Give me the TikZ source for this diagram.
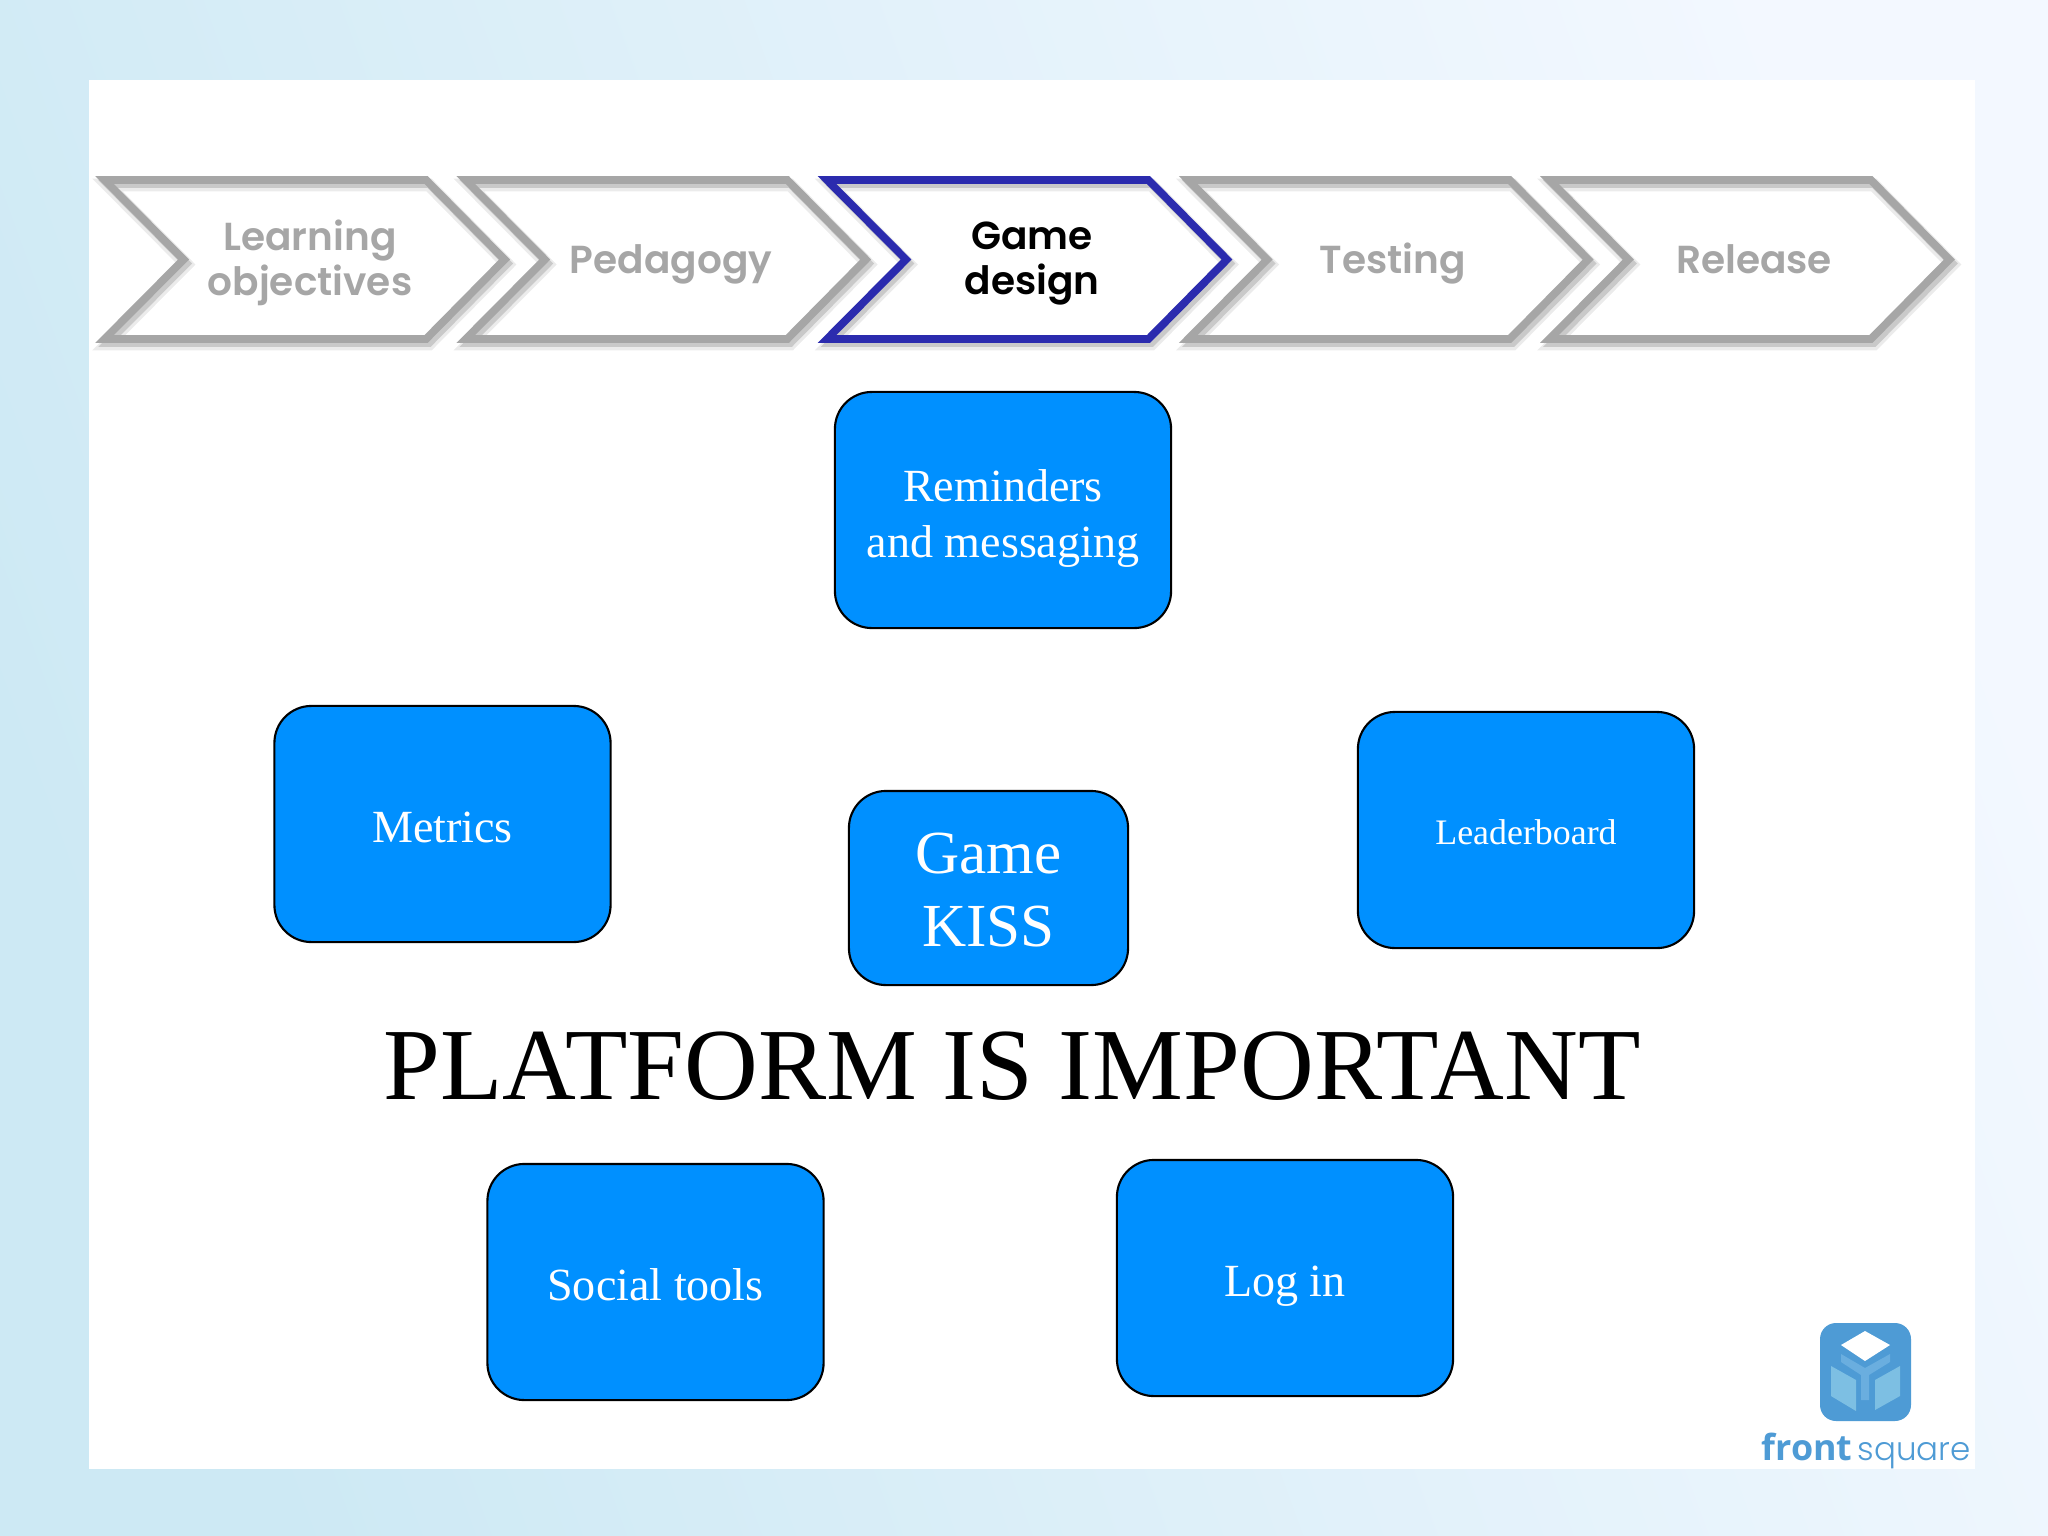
\documentclass[tikz,border=0pt]{standalone}
\usepackage{fontspec}
\setmainfont{Liberation Serif}
\newfontfamily\stepfont{Poppins SemiBold}
\newfontfamily\frontfont{Open Sans}
\newfontfamily\squarefont{Poppins Light}
\definecolor{backleft}{HTML}{CDE9F4}
\definecolor{backright}{HTML}{F3F8FF}
\definecolor{stepgray}{HTML}{A6A6A6}
\definecolor{stepblue}{HTML}{2B2BAE}
\definecolor{cardblue}{HTML}{0090FF}
\definecolor{logoblue}{HTML}{4E9BD5}
\definecolor{logomid}{HTML}{6AAEDF}
\definecolor{logolight}{HTML}{7DBFE3}
\tikzset{
  card/.style={draw=black, line width=0.6pt, fill=cardblue, text=white, rounded corners=0.37cm,
    minimum width=3.36cm, minimum height=2.36cm, inner sep=0pt, align=center,
    text height=10.3pt, text depth=0pt, font=\fontsize{13.1}{15.9}\selectfont},
  steptext/.style={align=center, inner sep=0pt, font=\stepfont\fontsize{11.1}{12.8}\selectfont},
}
\begin{document}
\begin{tikzpicture}[x=0.01cm,y=-0.01cm]
\useasboundingbox (0,0) rectangle (2048,1536);
\shade[shading=axis, top color=backleft, bottom color=backright, shading angle=110] (0,0) rectangle (2048,1536);
\fill[white] (89,80) rectangle (1975,1469);

% steps
\foreach \c [count=\i from 0] in {stepgray, stepgray, stepblue, stepgray, stepgray} {
  \begin{scope}[xshift=1.075cm+\i*3.61cm]
  \draw[black, opacity=0.08, line width=3.6pt, shift={(3,5)}]
    (-3,180) -- (318.5,180) -- (397,259.5) -- (318.5,339) -- (-3,339) -- (76,259.5) -- cycle;
  \draw[black, opacity=0.14, line width=2.2pt, shift={(3,4)}]
    (-3,180) -- (318.5,180) -- (397,259.5) -- (318.5,339) -- (-3,339) -- (76,259.5) -- cycle;
  \draw[\c, line width=2.2pt, miter limit=10]
    (-3,180) -- (318.5,180) -- (397,259.5) -- (318.5,339) -- (-3,339) -- (76,259.5) -- cycle;
  \end{scope}
}
\node[steptext, text=stepgray] (learning) at (310,263) {Learning\\objectives};
\node[steptext, text=stepgray] (pedagogy) at (671,264) {Pedagogy};
\node[steptext, text=black] (design) at (1032,264) {Game\\design};
\node[steptext, text=stepgray] (testing) at (1393,264) {Testing};
\node[steptext, text=stepgray] (release) at (1754,259) {Release};

% cards
\node[card, text height=27.2pt] (reminders) at (1003,510) {Reminders\\and messaging};
\node[card] (metrics) at (442.5,824) {Metrics};
\node[card, text height=8pt, font=\fontsize{10.2}{12}\selectfont] (leaderboard) at (1526,830) {Leaderboard};
\node[card, text height=33.2pt, minimum width=2.79cm, minimum height=1.94cm, font=\fontsize{17.4}{20.8}\selectfont] (game) at (988.5,888) {Game\\KISS};
\node[card] (social) at (655.5,1282) {Social tools};
\node[card] (login) at (1285,1278) {Log in};

\node[inner sep=0pt, font=\fontsize{29.05}{32}\selectfont] (platform) at (1012,1066) {PLATFORM IS IMPORTANT};

% logo
\fill[logoblue, rounded corners=0.16cm] (1820,1323) rectangle (1911,1421);
\fill[white] (1841,1345) -- (1865,1331) -- (1890,1345) -- (1865,1361) -- cycle;
\fill[logomid] (1841,1354) -- (1865,1368) -- (1890,1354) -- (1890,1362) -- (1869,1375) -- (1869,1400) -- (1861,1400) -- (1861,1375) -- (1841,1362) -- cycle;
\fill[logolight] (1831,1366) -- (1856,1380) -- (1856,1411) -- (1831,1396) -- cycle;
\fill[logolight] (1900,1366) -- (1875,1380) -- (1875,1410) -- (1900,1396) -- cycle;
\node[anchor=base west, inner sep=0pt, text=logoblue, font=\frontfont\bfseries\fontsize{10.2}{12}\selectfont] (front) at (1761,1460) {front};
\node[anchor=base west, inner sep=0pt, text=logoblue, font=\squarefont\fontsize{9.25}{12}\selectfont] (square) at (1857,1460) {square};
\end{tikzpicture}
\end{document}
